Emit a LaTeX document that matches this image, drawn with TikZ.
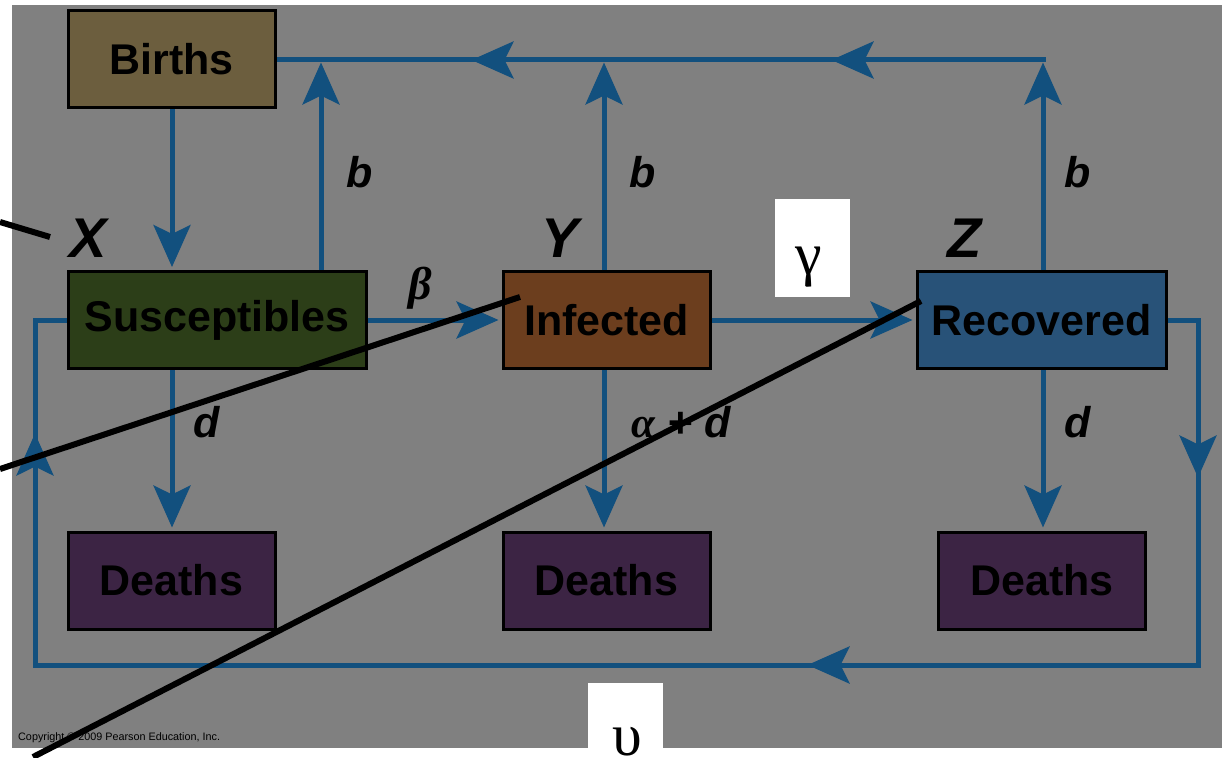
\documentclass[tikz,border=0pt]{standalone}
\usepackage{fontspec}
\setmainfont{Liberation Sans}
\newfontfamily\grk{Liberation Serif}
\usetikzlibrary{arrows.meta,decorations.markings}

\definecolor{panel}{RGB}{128,128,128}
\definecolor{flowblue}{RGB}{18,80,126}
\definecolor{birthfill}{RGB}{108,94,62}
\definecolor{susfill}{RGB}{44,62,24}
\definecolor{inffill}{RGB}{108,62,30}
\definecolor{recfill}{RGB}{40,82,120}
\definecolor{deathfill}{RGB}{60,36,68}

\begin{document}
\begin{tikzpicture}[x=1pt,y=-1pt,
  flowtip/.tip={Stealth[length=42pt,width=37pt,inset=9pt]},
  box/.style={draw=black,line width=3pt,inner sep=0pt,minimum height=97pt,
    font=\fontsize{43}{50}\selectfont\bfseries},
  flow/.style={draw=flowblue,line width=5pt},
  rate/.style={font=\fontsize{43}{50}\selectfont\bfseries\itshape},
  statevar/.style={font=\fontsize{56}{64}\selectfont\bfseries\itshape},
  patch/.style={fill=white,inner sep=0pt,minimum width=75pt},
  symb/.style={anchor=base,inner sep=0pt,font=\grk\fontsize{60}{64}\selectfont},
  pointer/.style={draw=black,line width=6pt}
]
\useasboundingbox (0,0) rectangle (1225,757);
\fill[panel] (12,5) rectangle (1222,748);

% compartments
\node[box,fill=birthfill,minimum width=207pt] (births) at (171.5,59.5) {Births};
\node[box,fill=susfill,minimum width=298pt] (sus) at (217,320) {Susceptibles};
\node[box,fill=inffill,minimum width=207pt] (inf) at (606.5,320) {Infected};
\node[box,fill=recfill,minimum width=249pt] (rec) at (1041.5,320) {Recovered};
\node[box,fill=deathfill,minimum width=207pt] (dS) at (171.5,580.5) {Deaths};
\node[box,fill=deathfill,minimum width=207pt] (dI) at (606.5,580.5) {Deaths};
\node[box,fill=deathfill,minimum width=207pt] (dR) at (1042,580.5) {Deaths};

% columns of the vertical flows
\coordinate (colS) at (172,0);
\coordinate (colB) at (321,60);
\coordinate (colI) at (604,60);
\coordinate (colR) at (1043,60);

% births
\draw[flow,-flowtip,shorten >=3pt] (births.south -| colS) -- (sus.north -| colS);

% recycled births along the top
\draw[flow,-flowtip,shorten >=2.5pt] (sus.north -| colB) -- (colB);
\draw[flow,-flowtip,shorten >=2.5pt] (inf.north -| colI) -- (colI);
\draw[flow,-flowtip,shorten >=2.5pt] (rec.north -| colR) -- (colR);
\draw[flow,postaction={decorate},decoration={markings,
    mark=at position 214pt with {\arrow{flowtip}},
    mark=at position 574pt with {\arrow{flowtip}}}]
  ([xshift=2.5pt]colR) -- (births.east |- colR);

% transmission and recovery
\draw[flow,-flowtip,shorten >=3pt] (sus.east) -- (inf.west);
\draw[flow,-flowtip,shorten >=3pt] (inf.east) -- (rec.west);

% deaths
\draw[flow,-flowtip,shorten >=3pt] (sus.south -| colS) -- (dS.north -| colS);
\draw[flow,-flowtip,shorten >=3pt] (inf.south -| colI) -- (dI.north -| colI);
\draw[flow,-flowtip,shorten >=3pt] (rec.south -| colR) -- (dR.north -| colR);

% loss of immunity loop
\coordinate (loopNE) at (1198,320);
\coordinate (loopSE) at (1198,665);
\coordinate (loopSW) at (35,665);
\coordinate (loopNW) at (35,320);
\draw[flow,postaction={decorate},decoration={markings,
    mark=at position 188pt with {\arrow{flowtip}},
    mark=at position 766pt with {\arrow{flowtip}},
    mark=at position 1770pt with {\arrow{flowtip}}}]
  (rec.east) -- (loopNE) -- (loopSE) -- (loopSW) -- (loopNW) -- (sus.west);

% rate labels
\node[rate] (bS) at (360,172) {b};
\node[rate] (bI) at (643,172) {b};
\node[rate] (bR) at (1078,172) {b};
\node[rate] (dlS) at (207,422) {d};
\node[rate] (dlI) at (681,422) {{\grk α} + d};
\node[rate] (dlR) at (1078,422) {d};
\node[font=\grk\fontsize{46}{50}\selectfont\bfseries\itshape] (beta) at (420,288) {β};

% state variables
\node[statevar] (X) at (88,238) {X};
\node[statevar] (Y) at (560,238) {Y};
\node[statevar] (Z) at (965,238) {Z};

\node[anchor=base west,inner sep=0pt,font=\fontsize{10.8}{12}\selectfont] (copy) at (18,740)
  {Copyright © 2009 Pearson Education, Inc.};

% white patches with symbols
\node[patch,anchor=north west,minimum height=98pt] (gampatch) at (775,199) {};
\node[symb] (gam) at (809,274) {γ};
\node[patch,anchor=north west,minimum height=80pt] (upspatch) at (588,683) {};
\node[symb] (ups) at (627,755) {υ};

% pointer lines
\coordinate (pX) at (0,222);
\coordinate (pXend) at (50,237);
\coordinate (pY) at (0,469);
\coordinate (pYend) at (520,297);
\coordinate (pZ) at (33,757);
\coordinate (pZend) at (921,301);
\draw[pointer] (pX) -- (pXend);
\draw[pointer] (pY) -- (pYend);
\draw[pointer] (pZ) -- (pZend);
\end{tikzpicture}
\end{document}
